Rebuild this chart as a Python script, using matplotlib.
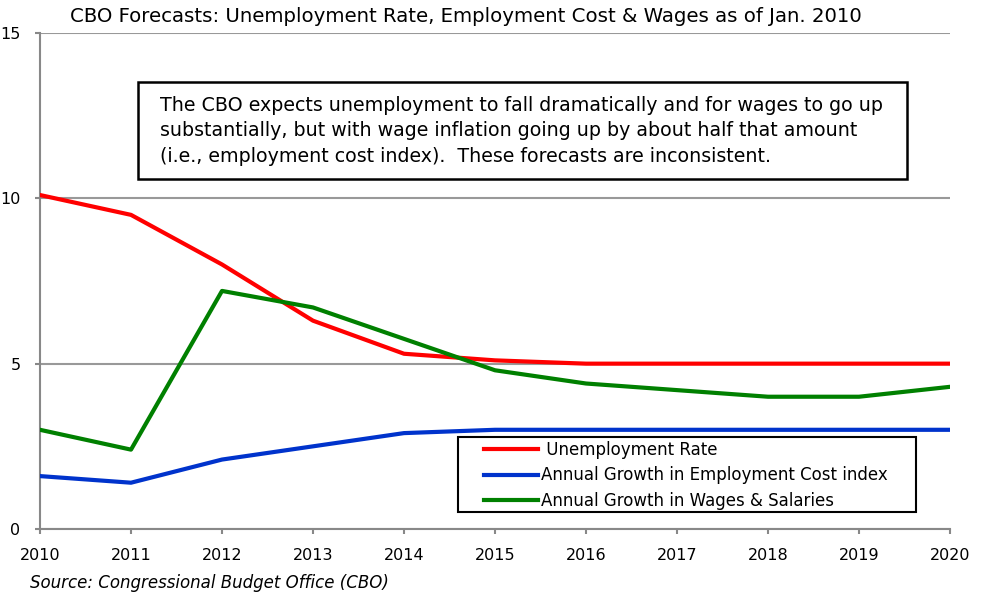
import matplotlib
matplotlib.use("Agg")
import matplotlib.pyplot as plt
from matplotlib.patches import Rectangle
from matplotlib.legend_handler import HandlerLine2D

years = [2010, 2011, 2012, 2013, 2014, 2015, 2016, 2017, 2018, 2019, 2020]
unemployment = [10.1, 9.5, 8.0, 6.3, 5.3, 5.1, 5.0, 5.0, 5.0, 5.0, 5.0]
eci_growth = [1.6, 1.4, 2.1, 2.5, 2.9, 3.0, 3.0, 3.0, 3.0, 3.0, 3.0]
wage_growth = [3.0, 2.4, 7.2, 6.7, 5.75, 4.8, 4.4, 4.2, 4.0, 4.0, 4.3]
series_labels = [" Unemployment Rate", "Annual Growth in Employment Cost index",
                 "Annual Growth in Wages & Salaries"]
yticks = [0, 5, 10, 15]

plt.rcParams['font.family'] = ['DejaVu Sans']

W, H = 992, 595
fig = plt.figure(figsize=(W/100, H/100), dpi=100)
ax = fig.add_axes([40/W, 66/H, 910/W, 496/H])

l1, = ax.plot(years, unemployment, color='#ff0000', lw=3.0, zorder=3)
l2, = ax.plot(years, eci_growth, color='#0033cc', lw=3.0, zorder=3)
l3, = ax.plot(years, wage_growth, color='#008000', lw=3.0, zorder=3)

ax.set_xlim(2010, 2020)
ax.set_ylim(0, 15)
ax.set_yticks(yticks)
ax.set_xticks(years)
ax.set_xticklabels([str(y) for y in years])
ax.yaxis.grid(True, color='#999999', lw=1.5)
ax.set_axisbelow(True)
for s in ['top', 'right']:
    ax.spines[s].set_visible(False)
for s in ['left', 'bottom']:
    ax.spines[s].set_color('#888888')
    ax.spines[s].set_linewidth(1.5)
ax.tick_params(axis='both', colors='#888888', width=1.5, length=3.6,
               labelcolor='black', labelsize=11.5)
ax.tick_params(axis='x', pad=10)
ax.tick_params(axis='y', pad=10.5)

# title
fig.text(466/W, 1 - 17/H,
         "CBO Forecasts: Unemployment Rate, Employment Cost & Wages as of Jan. 2010",
         ha='center', va='center', fontsize=14.2)

# source
fig.text(30/W, 1 - 583/H, "Source: Congressional Budget Office (CBO)",
         fontsize=12, style='italic', ha='left', va='center')

# annotation box
fig.add_artist(Rectangle((138/W, 1 - 179/H), (907-138)/W, (179-82)/H,
                         transform=fig.transFigure, fc='white', ec='black', lw=1.8, zorder=4))
fig.text(160/W, 1 - 131/H,
         "The CBO expects unemployment to fall dramatically and for wages to go up\n"
         "substantially, but with wage inflation going up by about half that amount\n"
         "(i.e., employment cost index).  These forecasts are inconsistent.",
         fontsize=13.7, ha='left', va='center', linespacing=1.42, zorder=5)

# legend box
ax.add_patch(Rectangle(((458-40)/910, (529-512)/496), (916-458)/910, (512-437)/496,
                       transform=ax.transAxes, fc='white', ec='black', lw=1.5,
                       zorder=4, clip_on=False))
leg = ax.legend([l1, l2, l3], series_labels, loc='upper left',
                bbox_to_anchor=((484-40)/910, (529-441)/496), fontsize=12, frameon=False,
                handlelength=3.24, handletextpad=0.2, borderpad=0, borderaxespad=0,
                labelspacing=0.45)
leg.set_zorder(5)

fig.savefig("out.png", dpi=100)
